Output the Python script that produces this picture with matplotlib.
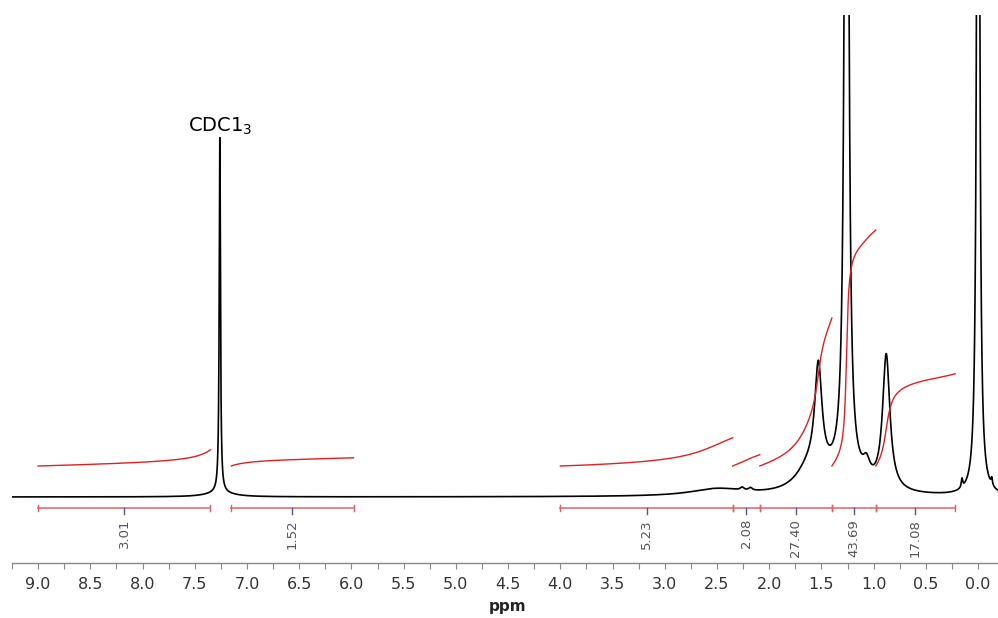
import numpy as np
import matplotlib.pyplot as plt

# 1H NMR peaks: shift (ppm), height (CDCl3 peak = 1), half width (ppm)
peak_shift = [7.26, 7.26, 1.53, 1.62, 1.30, 1.26, 1.07, 0.88, 2.50, 2.26, 2.18, 0.00, 0.155, -0.13]
peak_height = [1.00, 0.012, 0.30, 0.06, 0.05, 4.0, 0.045, 0.38, 0.02, 0.008, 0.008, 4.0, 0.025, 0.02]
peak_width = [0.007, 0.15, 0.042, 0.15, 0.20, 0.017, 0.04, 0.042, 0.30, 0.02, 0.02, 0.012, 0.008, 0.008]

# integration regions (ppm) and their integral values
int_start = [9.00, 7.15, 4.00, 2.35, 2.09, 1.40, 0.98]
int_end = [7.35, 5.98, 2.35, 2.09, 1.40, 0.98, 0.22]
int_value = [3.01, 1.52, 5.23, 2.08, 27.40, 43.69, 17.08]

major_ticks = np.arange(0.0, 9.01, 0.5)
minor_ticks = np.arange(-0.0, 9.3, 0.25)

PX = 1 / 355  # one pixel in intensity units
INT_BASE = 31 * PX  # where each integral curve starts
INT_SCALE = 5.4 * PX  # integral curve height per unit of integral

ppm = np.arange(9.3, -0.25, -0.0005)
spec = np.zeros_like(ppm)
for s, h, w in zip(peak_shift, peak_height, peak_width):
    spec += h * w**2 / ((ppm - s) ** 2 + w**2)

fig = plt.figure(figsize=(9.98, 6.18), dpi=100)
ax = fig.add_axes([12 / 998, 55 / 618, 986 / 998, 548 / 618])
ax.set_xlim(9.25, -0.19)
ax.set_ylim(-66 * PX, 482 * PX)

ax.plot(ppm, spec, color="black", linewidth=1.2)

# integral curves and bars
for a, b, val in zip(int_start, int_end, int_value):
    m = (ppm <= a) & (ppm >= b)
    seg = spec[m] + 0.0003
    cum = np.cumsum(seg)
    cum = cum / cum[-1]
    ax.plot(ppm[m], INT_BASE + cum * val * INT_SCALE, color="#e02020", linewidth=1.0)

    ax.plot([a, b], [-11 * PX, -11 * PX], color="#e87878", linewidth=1.3)
    for edge in (a, b):
        ax.plot([edge, edge], [-14 * PX, -8 * PX], color="#e06060", linewidth=1.0)
    mid = (a + b) / 2
    ax.plot([mid, mid], [-11 * PX, -17 * PX], color="#4a5a8a", linewidth=1.0)
    ax.text(mid, -22 * PX, f"{val:.2f}", rotation=90, ha="center", va="top",
            fontsize=9.5, color="#555555")

ax.text(7.26, 371 * PX, "CDC1$_3$", ha="center", va="center", fontsize=14, color="black")

for side in ("left", "right", "top"):
    ax.spines[side].set_visible(False)
ax.spines["bottom"].set_color("#888888")
ax.spines["bottom"].set_linewidth(1.0)
ax.set_yticks([])
ax.set_xticks(major_ticks)
ax.set_xticklabels([f"{t:.1f}" for t in major_ticks])
ax.set_xticks(minor_ticks, minor=True)
ax.tick_params(axis="x", which="both", direction="out", length=4, width=0.8,
               color="#888888", labelsize=11.5, labelcolor="#333333", pad=6)

fig.text(508 / 998, 1 - 606 / 618, "ppm", ha="center", va="center",
         fontsize=11, fontweight="bold", color="#222222")

fig.savefig("out.png", dpi=100)
